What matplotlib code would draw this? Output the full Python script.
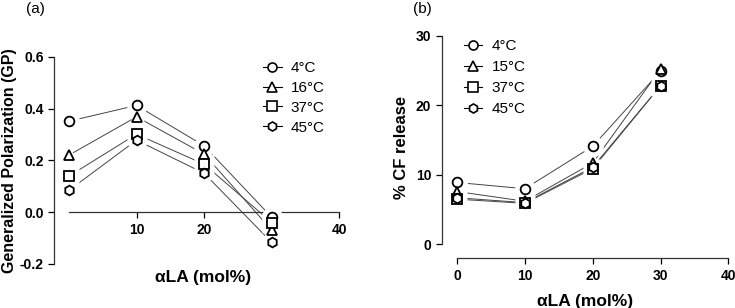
import numpy as np
import matplotlib
matplotlib.use("Agg")
import matplotlib.pyplot as plt
from matplotlib.lines import Line2D

plt.rcParams['font.family'] = ['Liberation Sans', 'DejaVu Sans']

ala = [0, 10, 20, 30]

# panel (a): generalized polarization
gp_labels = ["4°C", "16°C", "37°C", "45°C"]
gp_4 = [0.351, 0.412, 0.256, -0.020]
gp_16 = [0.220, 0.368, 0.224, -0.070]
gp_37 = [0.139, 0.301, 0.185, -0.040]
gp_45 = [0.084, 0.278, 0.150, -0.117]

# panel (b): CF release
cf_labels = ["4°C", "15°C", "37°C", "45°C"]
cf_4 = [8.9, 8.0, 14.1, 24.9]
cf_15 = [7.6, 6.2, 11.7, 25.2]
cf_37 = [6.5, 5.9, 10.9, 22.8]
cf_45 = [6.7, 6.0, 11.1, 22.8]

markers = ["o", "^", "s", "h"]
ms = 7


def draw_series(ax, series, labels):
    for ys, m in zip(series, markers):
        ax.plot(ala, ys, color="#444444", lw=0.7, zorder=2)
    for ys, m in zip(series, markers):
        ax.plot(ala, ys, ls="none", marker=m, ms=ms + 8, mfc="white",
                mec="none", zorder=3, clip_on=False)
    for ys, m in zip(series, markers):
        ax.plot(ala, ys, ls="none", marker=m, ms=ms, mfc="white",
                mec="black", mew=1.3, zorder=4, clip_on=False)
    handles = [Line2D([], [], color="black", lw=0.8, marker=m, ms=6.5,
                      mfc="white", mec="black", mew=1.2) for m in markers]
    return handles


def style(ax):
    for s in ["top", "right"]:
        ax.spines[s].set_visible(False)
    for s in ["left", "bottom"]:
        ax.spines[s].set_linewidth(0.9)
        ax.spines[s].set_color("#333333")
    ax.tick_params(direction="out", length=4, width=0.9, labelsize=10)
    for t in ax.get_xticklabels() + ax.get_yticklabels():
        t.set_fontweight("bold")


fig = plt.figure(figsize=(7.35, 3.08), dpi=100)

# ---- (a)
ax1 = fig.add_axes([0.0735, 0.1429, 0.391, 0.673])
h = draw_series(ax1, [gp_4, gp_16, gp_37, gp_45], gp_labels)
ax1.set_xlim(-2.2, 40.3)
ax1.set_ylim(-0.2, 0.6)
ax1.spines["bottom"].set_position(("data", 0))
ax1.spines["bottom"].set_bounds(0, 40)
ax1.set_xticks([10, 20, 30, 40])
ax1.set_xticklabels(["10", "20", "", "40"])
ax1.set_yticks([-0.2, 0.0, 0.2, 0.4, 0.6])
ax1.set_yticklabels(["-0.2", "0.0", "0.2", "0.4", "0.6"])
style(ax1)
ax1.set_ylabel("Generalized Polarization (GP)", fontsize=11.5,
               fontweight="bold", labelpad=2)
ax1.text(0.52, -0.03, "αLA (mol%)", transform=ax1.transAxes, ha="center",
         va="top", fontsize=12.5, fontweight="bold")
ax1.legend(h, gp_labels, loc="upper left", bbox_to_anchor=(0.68, 1.045),
           frameon=False, fontsize=11, handlelength=1.2, handletextpad=0.6,
           labelspacing=0.38)
fig.text(26 / 735, 1 - 9 / 308, "(a)", fontsize=11, va="center")

# ---- (b)
ax2 = fig.add_axes([0.601, 0.1614, 0.390, 0.7227])
h = draw_series(ax2, [cf_4, cf_15, cf_37, cf_45], cf_labels)
ax2.set_xlim(-2.26, 40)
ax2.set_ylim(-2.0, 30)
ax2.spines["bottom"].set_bounds(0, 40)
ax2.spines["left"].set_bounds(0, 30)
ax2.set_xticks([0, 10, 20, 30, 40])
ax2.set_yticks([0, 10, 20, 30])
style(ax2)
ax2.set_ylabel("% CF release", fontsize=12, fontweight="bold", labelpad=5)
ax2.set_xlabel("αLA (mol%)", fontsize=12.5, fontweight="bold", labelpad=8)
ax2.legend(h, cf_labels, loc="upper left", bbox_to_anchor=(0.03, 1.045),
           frameon=False, fontsize=11, handlelength=1.2, handletextpad=0.6,
           labelspacing=0.45)
fig.text(413 / 735, 1 - 9 / 308, "(b)", fontsize=11, va="center")

fig.savefig("out.png", dpi=100)
